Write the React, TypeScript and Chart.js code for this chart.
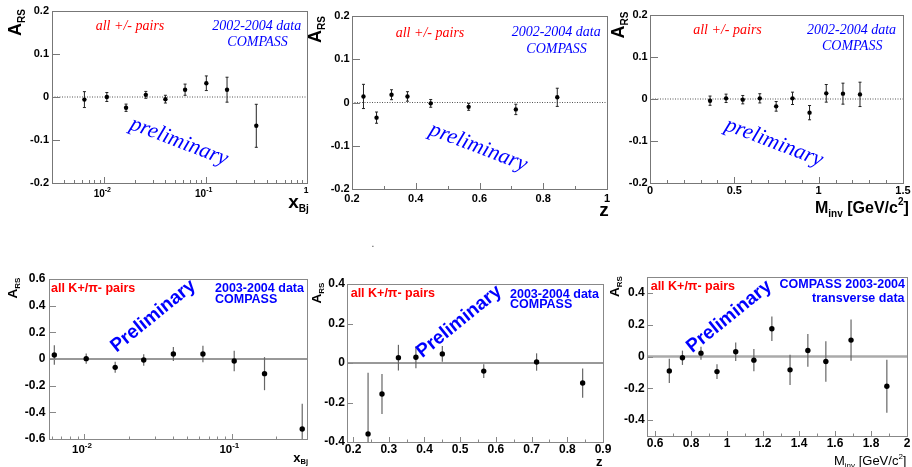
import React, { useEffect, useRef } from 'react';
import { Chart, registerables } from 'chart.js';

Chart.register(...registerables);

const SANS = '"Liberation Sans", Arial, Helvetica, sans-serif';
const SERIF = '"Liberation Serif", "Times New Roman", serif';
const RED = '#ff0000';
const BLUE = '#0000ff';

// ---------------- data: top row (all +/- pairs, 2002-2004) ----------------
const xbjAll = [0.00637, 0.0106, 0.0164, 0.0257, 0.0401, 0.0627, 0.1016, 0.1626, 0.316];
const arsXbjAll = [-0.006, 0.0, -0.025, 0.005, -0.005, 0.017, 0.032, 0.017, -0.067];
const errXbjAll = [0.0185, 0.0105, 0.0085, 0.008, 0.009, 0.013, 0.017, 0.029, 0.05];

const zAll = [0.236, 0.277, 0.324, 0.374, 0.447, 0.566, 0.714, 0.844];
const arsZAll = [0.014, -0.035, 0.018, 0.014, -0.002, -0.01, -0.016, 0.012];
const errZAll = [0.028, 0.013, 0.0115, 0.011, 0.009, 0.008, 0.012, 0.021];

const minvAll = [0.356, 0.451, 0.55, 0.651, 0.748, 0.845, 0.946, 1.045, 1.144, 1.245];
const arsMinvAll = [-0.004, 0.0016, -0.0016, 0.0016, -0.0175, 0.0016, -0.0325, 0.0135, 0.0127, 0.011];
const errMinvAll = [0.011, 0.01, 0.01, 0.011, 0.0115, 0.0147, 0.017, 0.021, 0.025, 0.029];

// ---------------- data: bottom row (K+/pi- pairs, 2003-2004) ----------------
const xbjKpi = [0.00626, 0.0103, 0.0162, 0.0253, 0.0402, 0.0638, 0.104, 0.167, 0.301];
const arsXbjKpi = [0.03, 0.0025, -0.0625, -0.0075, 0.0375, 0.0375, -0.015, -0.11, -0.525];
const errXbjKpi = [0.074, 0.039, 0.041, 0.044, 0.052, 0.061, 0.076, 0.124, 0.19];

const zKpi = [0.242, 0.281, 0.327, 0.376, 0.45, 0.566, 0.714, 0.843];
const arsZKpi = [-0.359, -0.157, 0.027, 0.029, 0.046, -0.041, 0.005, -0.1015];
const errZKpi = [0.31, 0.1015, 0.065, 0.056, 0.04, 0.035, 0.044, 0.074];

const minvKpi = [0.679, 0.752, 0.855, 0.944, 1.048, 1.149, 1.249, 1.35, 1.449, 1.549, 1.689, 1.888];
const arsMinvKpi = [-0.0905, -0.008, 0.021, -0.095, 0.0295, -0.023, 0.175, -0.084, 0.038, -0.0316, 0.103, -0.187];
const errMinvKpi = [0.076, 0.045, 0.041, 0.046, 0.058, 0.0695, 0.077, 0.095, 0.103, 0.127, 0.13, 0.166];

// ---------------- tick labels ----------------
const yTicksTop = [-0.2, -0.1, 0, 0.1, 0.2];
const zTicksTop = [0.2, 0.4, 0.6, 0.8, 1];
const minvTicksTop = [0, 0.5, 1, 1.5];
const yTicksKpiX = [-0.6, -0.4, -0.2, 0, 0.2, 0.4, 0.6];
const yTicksKpiZ = [-0.4, -0.2, 0, 0.2, 0.4];
const yTicksKpiM = [-0.4, -0.2, 0, 0.2, 0.4];
const zTicksKpi = [0.2, 0.3, 0.4, 0.5, 0.6, 0.7, 0.8, 0.9];
const minvTicksKpi = [0.6, 0.8, 1, 1.2, 1.4, 1.6, 1.8, 2];
const logLabelsTop = [
  { v: 0.01, base: '10', exp: '-2' },
  { v: 0.1, base: '10', exp: '-1' },
  { v: 1, base: '1', exp: '' },
];
const logLabelsKpi = [
  { v: 0.01, base: '10', exp: '-2' },
  { v: 0.1, base: '10', exp: '-1' },
];

// ---------------- helpers ----------------
function steps(a: number, b: number, s: number): number[] {
  const out: number[] = [];
  for (let v = a; v <= b + 1e-9; v += s) out.push(Math.round(v * 1e6) / 1e6);
  return out;
}
function logTicks(min: number, max: number) {
  const out: { v: number; major: boolean }[] = [];
  for (let d = Math.floor(Math.log10(min)); d <= Math.ceil(Math.log10(max)); d++) {
    for (let k = 1; k <= 9; k++) {
      const v = k * Math.pow(10, d);
      if (v >= min * 0.999 && v <= max * 1.001) out.push({ v, major: k === 1 });
    }
  }
  return out;
}
function fmt(v: number): string {
  return String(Math.round(v * 1000) / 1000);
}

type Txt = { t: string; x: number; y: number; font: string; color: string; align?: CanvasTextAlign; rot?: number };
type Part = { t: string; font: string; dy?: number };
type Rich = { parts: Part[]; x: number; y: number; rot?: number; color?: string };

const ti = (s: number) => `italic ${s}px ${SERIF}`;
const sb = (s: number) => `bold ${s}px ${SANS}`;
const sr = (s: number) => `${s}px ${SANS}`;

function ars(x: number, y: number, big: number, small: number, dy: number): Rich {
  return { x, y, rot: -90, parts: [{ t: 'A', font: sb(big) }, { t: 'RS', font: sb(small), dy }] };
}

const PANELS: any[] = [
  {
    frame: [52, 11, 307, 183], logX: true, xMin: 0.00305, xMax: 1, xTicks: [0.01, 0.1, 1], xMinor: [],
    xMajorLen: 6, xMinorLen: 3, yMin: -0.2, yMax: 0.2, yTicks: yTicksTop, yTickLen: 8,
    tickFont: 11, xPad: 0, yPad: 3,
    xs: xbjAll, ys: arsXbjAll, errs: errXbjAll,
    pointR: 2.2, barColor: '#222', barWidth: 1, cap: 1.5,
    zero: { color: '#555', width: 1, dash: [1, 1.5] }, frameColor: '#777',
    logLabels: { items: logLabelsTop, baseFont: sb(10), supFont: sb(7), oneFont: sb(8.5), baseY: 197.3, supY: 192.3 },
    texts: [
      { t: 'all +/- pairs', x: 130, y: 26.7, font: ti(14), color: RED },
      { t: '2002-2004 data', x: 256.7, y: 26.7, font: ti(14), color: BLUE },
      { t: 'COMPASS', x: 257.5, y: 42.3, font: ti(14), color: BLUE },
      { t: 'preliminary', x: 179, y: 141.7, font: ti(22), color: BLUE, rot: 21 },
    ],
    rich: [
      ars(21, 36, 18, 10, 4),
      { x: 288.3, y: 208.3, parts: [{ t: 'x', font: sb(19) }, { t: 'Bj', font: sb(10), dy: 4 }] },
    ],
  },
  {
    frame: [352, 16, 607, 189], logX: false, xMin: 0.2, xMax: 1, xTicks: zTicksTop, xMinor: steps(0.3, 0.9, 0.2),
    xMajorLen: 6, xMinorLen: 3, yMin: -0.2, yMax: 0.2, yTicks: yTicksTop, yTickLen: 8,
    tickFont: 11, xPad: 3, yPad: 2.4,
    xs: zAll, ys: arsZAll, errs: errZAll,
    pointR: 2.2, barColor: '#222', barWidth: 1, cap: 1.5,
    zero: { color: '#555', width: 1, dash: [1, 1.5] }, frameColor: '#777',
    texts: [
      { t: 'all +/- pairs', x: 430, y: 33.3, font: ti(14), color: RED },
      { t: '2002-2004 data', x: 556.2, y: 32.7, font: ti(14), color: BLUE },
      { t: 'COMPASS', x: 556.5, y: 49, font: ti(14), color: BLUE },
      { t: 'preliminary', x: 478.3, y: 147.3, font: ti(22), color: BLUE, rot: 21 },
      { t: '.', x: 373, y: 244, font: sr(10), color: '#444' },
    ],
    rich: [
      ars(321, 43, 18, 10, 4),
      { x: 599.3, y: 216, parts: [{ t: 'z', font: sb(19) }] },
    ],
  },
  {
    frame: [650, 15, 903, 183], logX: false, xMin: 0, xMax: 1.5, xTicks: minvTicksTop, xMinor: steps(0.1, 1.4, 0.1),
    xMajorLen: 6, xMinorLen: 3, yMin: -0.2, yMax: 0.2, yTicks: yTicksTop, yTickLen: 8,
    tickFont: 11, xPad: 1, yPad: 2.3,
    xs: minvAll, ys: arsMinvAll, errs: errMinvAll,
    pointR: 2.2, barColor: '#222', barWidth: 1, cap: 1.5,
    zero: { color: '#555', width: 1, dash: [1, 1.5] }, frameColor: '#777',
    texts: [
      { t: 'all +/- pairs', x: 727.5, y: 30.7, font: ti(14), color: RED },
      { t: '2002-2004 data', x: 851.5, y: 30.7, font: ti(14), color: BLUE },
      { t: 'COMPASS', x: 852.2, y: 46, font: ti(14), color: BLUE },
      { t: 'preliminary', x: 774, y: 142.7, font: ti(22), color: BLUE, rot: 21 },
    ],
    rich: [
      ars(623.5, 38.5, 18, 10, 4),
      {
        x: 815, y: 213.3, parts: [
          { t: 'M', font: sb(16) }, { t: 'inv', font: sb(10), dy: 3.5 }, { t: ' [GeV/c', font: sb(16) },
          { t: '2', font: sb(10), dy: -8 }, { t: ']', font: sb(16) },
        ],
      },
    ],
  },
  {
    frame: [49, 279, 307, 439], logX: true, xMin: 0.00576, xMax: 0.3243, xTicks: [0.01, 0.1], xMinor: [],
    xMajorLen: 5, xMinorLen: 2.5, yMin: -0.6, yMax: 0.6, yTicks: yTicksKpiX, yTickLen: 7,
    tickFont: 12, xPad: 0, yPad: 3.5,
    xs: xbjKpi, ys: arsXbjKpi, errs: errXbjKpi,
    pointR: 2.7, barColor: '#666', barWidth: 1.2, cap: 0,
    zero: { color: '#333', width: 1, dash: [] }, frameColor: '#888',
    logLabels: { items: logLabelsKpi, baseFont: sb(11.5), supFont: sb(8), oneFont: sb(9), baseY: 453.3, supY: 448.3 },
    texts: [
      { t: 'all K+/\u03c0- pairs', x: 51, y: 288.7, font: sb(12.5), color: RED, align: 'left' },
      { t: '2003-2004 data', x: 215, y: 289, font: sb(12.5), color: BLUE, align: 'left' },
      { t: 'COMPASS', x: 215, y: 299.7, font: sb(12.5), color: BLUE, align: 'left' },
      { t: 'Preliminary', x: 153.3, y: 316, font: sb(19), color: BLUE, rot: -39 },
    ],
    rich: [
      ars(17.3, 298.5, 13.5, 8, 3),
      { x: 293.3, y: 461.7, parts: [{ t: 'x', font: sb(13) }, { t: 'Bj', font: sb(7.5), dy: 2.5 }] },
    ],
  },
  {
    frame: [347, 284, 603, 442], logX: false, xMin: 0.183, xMax: 0.9, xTicks: zTicksKpi, xMinor: steps(0.25, 0.85, 0.1),
    xMajorLen: 5, xMinorLen: 2.5, yMin: -0.4, yMax: 0.4, yTicks: yTicksKpiZ, yTickLen: 6,
    tickFont: 12, xPad: 0, yPad: 2,
    xs: zKpi, ys: arsZKpi, errs: errZKpi,
    pointR: 2.7, barColor: '#666', barWidth: 1.2, cap: 0,
    zero: { color: '#333', width: 1, dash: [] }, frameColor: '#888',
    texts: [
      { t: 'all K+/\u03c0- pairs', x: 350.7, y: 294, font: sb(12.5), color: RED, align: 'left' },
      { t: '2003-2004 data', x: 510, y: 294.3, font: sb(12.5), color: BLUE, align: 'left' },
      { t: 'COMPASS', x: 510, y: 305, font: sb(12.5), color: BLUE, align: 'left' },
      { t: 'Preliminary', x: 459.2, y: 321.7, font: sb(19), color: BLUE, rot: -39 },
    ],
    rich: [
      ars(320.5, 303.5, 13.5, 8, 3),
      { x: 596, y: 466.3, parts: [{ t: 'z', font: sb(13) }] },
    ],
  },
  {
    frame: [647, 277, 907, 436], logX: false, xMin: 0.555, xMax: 2, xTicks: minvTicksKpi, xMinor: steps(0.7, 1.9, 0.2),
    xMajorLen: 5, xMinorLen: 2.5, yMin: -0.5, yMax: 0.5, yTicks: yTicksKpiM, yTickLen: 6,
    tickFont: 12, xPad: 0, yPad: 2.3,
    xs: minvKpi, ys: arsMinvKpi, errs: errMinvKpi,
    pointR: 2.7, barColor: '#666', barWidth: 1.2, cap: 0,
    zero: { color: '#aaa', width: 2.5, dash: [] }, frameColor: '#888',
    texts: [
      { t: 'all K+/\u03c0- pairs', x: 650.7, y: 286.7, font: sb(12.5), color: RED, align: 'left' },
      { t: 'COMPASS 2003-2004', x: 905, y: 285, font: sb(12.5), color: BLUE, align: 'right' },
      { t: 'transverse data', x: 904.5, y: 298.7, font: sb(12.5), color: BLUE, align: 'right' },
      { t: 'Preliminary', x: 729.2, y: 316.7, font: sb(19), color: BLUE, rot: -39 },
    ],
    rich: [
      ars(619.3, 297, 13.5, 8, 3),
      {
        x: 834, y: 465, parts: [
          { t: 'M', font: sr(13) }, { t: 'inv', font: sr(8), dy: 2.5 }, { t: ' [GeV/c', font: sr(13) },
          { t: '2', font: sr(8), dy: -6 }, { t: ']', font: sr(13) },
        ],
      },
    ],
  },
];

function drawDecorTexts(ctx: CanvasRenderingContext2D, p: any) {
  for (const tx of p.texts as Txt[]) {
    ctx.save();
    ctx.font = tx.font;
    ctx.fillStyle = tx.color;
    ctx.textAlign = tx.align || 'center';
    ctx.textBaseline = 'middle';
    ctx.translate(tx.x, tx.y);
    if (tx.rot) ctx.rotate((tx.rot * Math.PI) / 180);
    ctx.fillText(tx.t, 0, 0);
    ctx.restore();
  }
  for (const rt of p.rich as Rich[]) {
    ctx.save();
    ctx.translate(rt.x, rt.y);
    if (rt.rot) ctx.rotate((rt.rot * Math.PI) / 180);
    ctx.fillStyle = rt.color || '#000';
    ctx.textBaseline = 'alphabetic';
    ctx.textAlign = 'left';
    let cx = 0;
    for (const part of rt.parts) {
      ctx.font = part.font;
      ctx.fillText(part.t, cx, part.dy || 0);
      cx += ctx.measureText(part.t).width;
    }
    ctx.restore();
  }
}

function buildChart(canvas: HTMLCanvasElement, p: any) {
  const [l, t, r, b] = p.frame;
  const W = 40;
  const H = 20;
  const decor = {
    id: 'decor',
    beforeDatasetsDraw(chart: any) {
      const ctx: CanvasRenderingContext2D = chart.ctx;
      const xs = chart.scales.x;
      const ys = chart.scales.y;
      const ca = chart.chartArea;
      ctx.save();
      // zero line
      const y0 = ys.getPixelForValue(0);
      ctx.strokeStyle = p.zero.color;
      ctx.lineWidth = p.zero.width;
      ctx.setLineDash(p.zero.dash);
      ctx.beginPath();
      ctx.moveTo(ca.left, y0);
      ctx.lineTo(ca.right, y0);
      ctx.stroke();
      ctx.setLineDash([]);
      // error bars
      ctx.save();
      ctx.beginPath();
      ctx.rect(ca.left, ca.top, ca.right - ca.left, ca.bottom - ca.top);
      ctx.clip();
      ctx.strokeStyle = p.barColor;
      ctx.lineWidth = p.barWidth;
      p.xs.forEach((xv: number, i: number) => {
        const px = xs.getPixelForValue(xv);
        const yt = ys.getPixelForValue(p.ys[i] + p.errs[i]);
        const yb = ys.getPixelForValue(p.ys[i] - p.errs[i]);
        ctx.beginPath();
        ctx.moveTo(px, yt);
        ctx.lineTo(px, yb);
        if (p.cap) {
          ctx.moveTo(px - p.cap, yt);
          ctx.lineTo(px + p.cap, yt);
          ctx.moveTo(px - p.cap, yb);
          ctx.lineTo(px + p.cap, yb);
        }
        ctx.stroke();
      });
      ctx.restore();
      // frame
      ctx.strokeStyle = p.frameColor;
      ctx.lineWidth = 1;
      ctx.strokeRect(ca.left + 0.5, ca.top + 0.5, ca.right - ca.left, ca.bottom - ca.top);
      // ticks
      const xt: { v: number; len: number }[] = [];
      if (p.logX) {
        for (const m of logTicks(p.xMin, p.xMax)) xt.push({ v: m.v, len: m.major ? p.xMajorLen : p.xMinorLen });
      } else {
        p.xTicks.forEach((v: number) => xt.push({ v, len: p.xMajorLen }));
        p.xMinor.forEach((v: number) => xt.push({ v, len: p.xMinorLen }));
      }
      ctx.beginPath();
      for (const tk of xt) {
        const px = Math.round(xs.getPixelForValue(tk.v)) + 0.5;
        ctx.moveTo(px, ca.bottom);
        ctx.lineTo(px, ca.bottom - tk.len);
      }
      for (const v of p.yTicks) {
        const py = Math.round(ys.getPixelForValue(v)) + 0.5;
        ctx.moveTo(ca.left, py);
        ctx.lineTo(ca.left + p.yTickLen, py);
      }
      ctx.stroke();
      ctx.restore();
    },
    afterDraw(chart: any) {
      const ctx: CanvasRenderingContext2D = chart.ctx;
      const xs = chart.scales.x;
      ctx.save();
      if (p.logLabels) {
        const L = p.logLabels;
        ctx.fillStyle = '#000';
        ctx.textBaseline = 'alphabetic';
        for (const it of L.items) {
          const px = xs.getPixelForValue(it.v);
          if (it.exp) {
            ctx.font = L.baseFont;
            ctx.textAlign = 'right';
            ctx.fillText(it.base, px + 0.5, L.baseY);
            ctx.font = L.supFont;
            ctx.textAlign = 'left';
            ctx.fillText(it.exp, px + 0.5, L.supY);
          } else {
            ctx.font = L.oneFont;
            ctx.textAlign = 'center';
            ctx.fillText(it.base, px - 1, L.supY + 1);
          }
        }
      }
      drawDecorTexts(ctx, p);
      ctx.restore();
    },
  };

  const cfg: any = {
    type: 'scatter',
    data: {
      datasets: [
        {
          data: p.xs.map((x: number, i: number) => ({ x, y: p.ys[i] })),
          pointRadius: p.pointR,
          pointHoverRadius: p.pointR,
          backgroundColor: '#000',
          borderColor: '#000',
          borderWidth: 0,
          showLine: false,
        },
      ],
    },
    options: {
      responsive: false,
      animation: false,
      devicePixelRatio: 1,
      events: [],
      layout: { padding: { left: l - W, top: t, right: 912 - r, bottom: 467 - b - H } },
      plugins: { legend: { display: false }, tooltip: { enabled: false } },
      scales: {
        x: {
          type: p.logX ? 'logarithmic' : 'linear',
          min: p.xMin,
          max: p.xMax,
          grid: { display: false, drawTicks: false },
          border: { display: false },
          ticks: {
            display: !p.logX,
            font: { family: SANS, size: p.tickFont, weight: 'bold' },
            color: '#000',
            padding: p.xPad,
            autoSkip: false,
            maxRotation: 0,
            minRotation: 0,
            callback: (v: number) => fmt(v),
          },
          afterBuildTicks: (s: any) => {
            s.ticks = p.xTicks.map((v: number) => ({ value: v }));
          },
          afterFit: (s: any) => {
            s.height = H;
            s.paddingLeft = 0;
            s.paddingRight = 0;
            s.paddingTop = 0;
            s.paddingBottom = 0;
          },
        },
        y: {
          type: 'linear',
          min: p.yMin,
          max: p.yMax,
          grid: { display: false, drawTicks: false },
          border: { display: false },
          ticks: {
            font: { family: SANS, size: p.tickFont, weight: 'bold' },
            color: '#000',
            padding: p.yPad,
            autoSkip: false,
            callback: (v: number) => fmt(v),
          },
          afterBuildTicks: (s: any) => {
            s.ticks = p.yTicks.map((v: number) => ({ value: v }));
          },
          afterFit: (s: any) => {
            s.width = W;
            s.paddingLeft = 0;
            s.paddingRight = 0;
            s.paddingTop = 0;
            s.paddingBottom = 0;
          },
        },
      },
    },
    plugins: [decor],
  };
  return new Chart(canvas, cfg);
}

export default function App() {
  const refs = useRef<(HTMLCanvasElement | null)[]>([]);
  useEffect(() => {
    const charts = PANELS.map((p, i) => buildChart(refs.current[i] as HTMLCanvasElement, p));
    return () => charts.forEach((c) => c.destroy());
  }, []);
  return (
    <div style={{ position: 'absolute', left: 0, top: 0, width: 912, height: 467, background: '#fff', overflow: 'hidden' }}>
      {PANELS.map((_, i) => (
        <canvas
          key={i}
          ref={(el) => {
            refs.current[i] = el;
          }}
          width={912}
          height={467}
          style={{ position: 'absolute', left: 0, top: 0, display: 'block' }}
        />
      ))}
    </div>
  );
}
